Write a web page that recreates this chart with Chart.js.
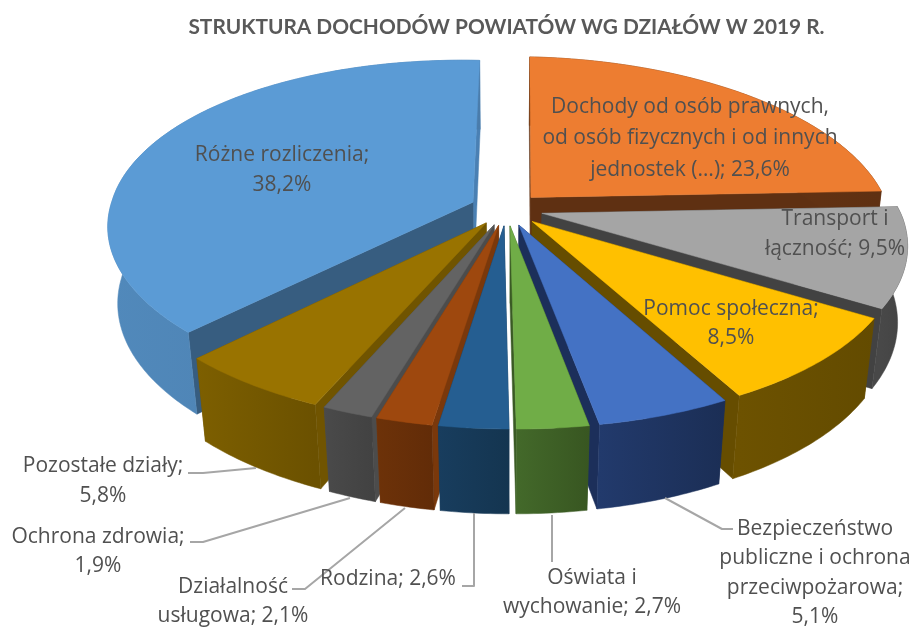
<!DOCTYPE html>
<html lang="pl"><head><meta charset="utf-8">
<style>html,body{margin:0;padding:0;background:#fff}#w{width:913px;height:627px}</style>
<script src="https://cdn.jsdelivr.net/npm/chart.js@4"></script></head>
<body><div id="w"><canvas id="c" width="913" height="627"></canvas></div>
<script>
const categories = ["Dochody od osób prawnych, od osób fizycznych i od innych jednostek (…)","Transport i łączność","Pomoc społeczna","Bezpieczeństwo publiczne i ochrona przeciwpożarowa","Oświata i wychowanie","Rodzina","Działalność usługowa","Ochrona zdrowia","Pozostałe działy","Różne rozliczenia"];
const values = [23.6,9.5,8.5,5.1,2.7,2.6,2.1,1.9,5.8,38.2];
const valueText = ["23,6%","9,5%","8,5%","5,1%","2,7%","2,6%","2,1%","1,9%","5,8%","38,2%"];
const topColors = ["#ED7D31","#A5A5A5","#FFC000","#4472C4","#70AD47","#255E91","#9E480E","#636363","#997300","#5B9BD5"];
const outerWallL = ["#6a3612","#484848","#6d5200","#223a6c","#43692a","#183d5e","#6d3209","#4a4a4a","#7d5f00","#5189bb"];
const outerWallR = ["#5f3012","#424242","#634b00","#1b2e55","#385621","#143550","#622c08","#424242","#6b5100","#4a7cab"];
const radialWall = ["#5f3012","#424242","#664d00","#1c2f5a","#3a5a25","#153654","#7a380b","#4c4c4c","#705400","#375d80"];
const endWall    = ["#5f3012","#424242","#664d00","#1c2f5a","#3a5a25","#153654","#7a380b","#4c4c4c","#705400","#4a80b3"];
const labelLines = [
 ["Dochody od osób prawnych,","od osób fizycznych i od innych","jednostek (…); 23,6%"],
 ["Transport i","łączność; 9,5%"],
 ["Pomoc społeczna;","8,5%"],
 ["Bezpieczeństwo","publiczne i ochrona","przeciwpożarowa;","5,1%"],
 ["Oświata i","wychowanie; 2,7%"],
 ["Rodzina; 2,6%"],
 ["Działalność","usługowa; 2,1%"],
 ["Ochrona zdrowia;","1,9%"],
 ["Pozostałe działy;","5,8%"],
 ["Różne rozliczenia;","38,2%"]];
const labelAnchor = [[690,107,31.5],[835,219,30],[731,309,29],[815,529,29.5],[592,578,29],[388,579,29],[233,587,29],[98,537,29],[103,466,30],[282,155,30]];
const leaderLines = [
 [[665,498],[722,529],[733,529]],
 [[552,515],[552,562]],
 [[474,513],[474,586],[462,586]],
 [[405,508],[305,589],[292,589]],
 [[350,498],[203,542],[190,542]],
 [[256,468],[203,473],[188,473]]];

const TILT = {cy:209, sx:1.295, sy:0.595, k:0.155, m:0.025, h:78, shearFront:-9, shearBack:-2.5, shearY:8};

const pie3d = {
 id:'pie3d',
 beforeDatasetsDraw(chart){
  const ctx = chart.ctx, meta = chart.getDatasetMeta(0);
  const R = meta.data[0].outerRadius, cx = meta.data[0].x;
  const A = TILT.sx*R, B = TILT.sy*R;
  const P = (u,v,z)=>{const w=1-TILT.k*v+TILT.m*z, S=v>0?TILT.shearFront:TILT.shearBack; return [cx+(A*u+S*v)/w, TILT.cy+(B*v+TILT.shearY*u+TILT.h*z)/w];};
  const slices = meta.data.map((el,i)=>{
    const mid=(el.startAngle+el.endAngle)/2, o=el.options.offset/R;
    const ox=Math.cos(mid)*o, oy=Math.sin(mid)*o, arc=[];
    const n=Math.max(4,Math.ceil((el.endAngle-el.startAngle)/0.015));
    for(let j=0;j<=n;j++){const a=el.startAngle+(el.endAngle-el.startAngle)*j/n; arc.push([ox+Math.cos(a),oy+Math.sin(a)]);}
    return {i,ox,oy,arc,depth:Math.sin(mid)};
  }).sort((a,b)=>a.depth-b.depth);
  const poly=(pts,fill)=>{ctx.beginPath();pts.forEach((p,j)=>j?ctx.lineTo(p[0],p[1]):ctx.moveTo(p[0],p[1]));ctx.closePath();ctx.fillStyle=fill;ctx.strokeStyle=fill;ctx.lineWidth=0.5;ctx.fill();ctx.stroke();};
  for(const s of slices){
    const a0=s.arc[0], a1=s.arc[s.arc.length-1];
    const wall=(e,col)=>poly([P(s.ox,s.oy,0),P(e[0],e[1],0),P(e[0],e[1],1),P(s.ox,s.oy,1)],col);
    const walls=[[a0,radialWall[s.i]],[a1,endWall[s.i]]];
    if(s.i===9) walls.reverse();
    walls.sort((p,q)=>p[0][1]-q[0][1]).forEach(w=>wall(w[0],w[1]));
    const tp=s.arc.map(p=>P(p[0],p[1],0)), bt=s.arc.map(p=>P(p[0],p[1],1)).reverse();
    const xs=tp.map(p=>p[0]), g=ctx.createLinearGradient(Math.min(...xs),0,Math.max(...xs),0);
    g.addColorStop(0,outerWallL[s.i]); g.addColorStop(1,outerWallR[s.i]);
    poly(tp.concat(bt),g);
    poly([P(s.ox,s.oy,0)].concat(tp),topColors[s.i]);
  }
  return false;
 },
 afterDraw(chart){
  const ctx=chart.ctx;
  ctx.save();
  ctx.strokeStyle="#a6a6a6"; ctx.lineWidth=2; ctx.lineJoin="round";
  for(const line of leaderLines){ctx.beginPath();line.forEach((p,j)=>j?ctx.lineTo(p[0],p[1]):ctx.moveTo(p[0],p[1]));ctx.stroke();}
  ctx.font='21px "Open Sans"'; ctx.textAlign="center"; ctx.textBaseline="middle"; ctx.fillStyle="#505050";
  labelLines.forEach((lines,i)=>{const [x,y,lh]=labelAnchor[i];lines.forEach((t,j)=>ctx.fillText(t,x,y+j*lh));});
  ctx.restore();
 }
};

new Chart(document.getElementById('c'),{
 type:'pie',
 data:{labels:categories,datasets:[{data:values,backgroundColor:topColors,offset:28,borderWidth:0}]},
 options:{responsive:false,animation:false,
  layout:{padding:{left:100,right:0,top:0,bottom:0}},
  plugins:{legend:{display:false},tooltip:{enabled:false},
   title:{display:true,fullSize:false,text:"STRUKTURA DOCHODÓW POWIATÓW WG DZIAŁÓW W 2019 R.",color:"#595959",font:{family:"Lato",size:20.85,weight:"bold"},padding:{top:15,bottom:2}}}},
 plugins:[pie3d]
});
</script></body></html>
